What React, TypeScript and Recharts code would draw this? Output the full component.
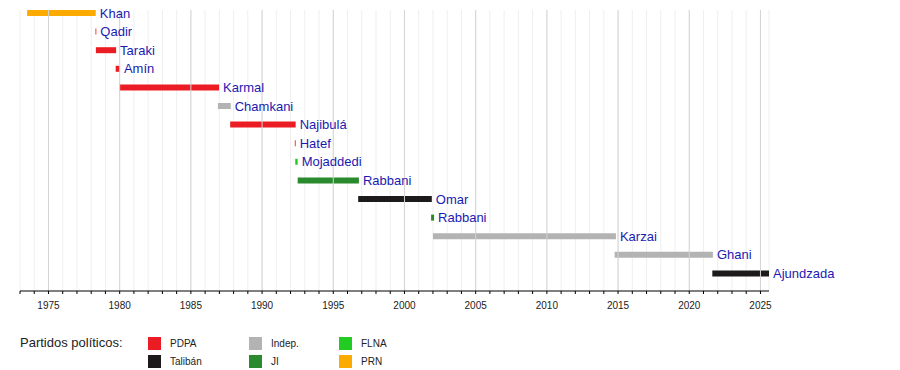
import React from "react";
import {
  BarChart,
  Bar,
  Cell,
  XAxis,
  YAxis,
  CartesianGrid,
  ReferenceLine,
  LabelList
} from "recharts";

// Leaders, party and term (decimal years), top to bottom
const LEADERS = ["Khan", "Qadir", "Taraki", "Amín", "Karmal", "Chamkani", "Najibulá", "Hatef", "Mojaddedi", "Rabbani", "Omar", "Rabbani", "Karzai", "Ghani", "Ajundzada"];
const PARTIES = ["PRN", "PDPA", "PDPA", "PDPA", "PDPA", "Indep.", "PDPA", "PDPA", "FLNA", "JI", "Talibán", "JI", "Indep.", "Indep.", "Talibán"];
const TERM_START = [1973.5, 1978.3, 1978.33, 1979.72, 1979.99, 1986.9, 1987.76, 1992.3, 1992.33, 1992.5, 1996.75, 2001.87, 2002.0, 2014.76, 2021.62];
const TERM_END = [1978.32, 1978.36, 1979.75, 1980.02, 1986.98, 1987.8, 1992.36, 1992.36, 1992.5, 1996.8, 2001.92, 2002.08, 2014.85, 2021.66, 2025.6];

const YEARS = Array.from({ length: 2025 - 1973 + 1 }, (_, i) => 1973 + i);
const MAJOR_YEARS = [1975, 1980, 1985, 1990, 1995, 2000, 2005, 2010, 2015, 2020, 2025];

const PARTY_COLORS: Record<string, string> = {
  PDPA: "#ec1c24",
  "Talibán": "#1c1a1b",
  "Indep.": "#b3b3b3",
  JI: "#2a8a2e",
  FLNA: "#22cc22",
  PRN: "#fbaa00"
};

// legend rows: [first row, second row] per column
const LEGEND_COLUMNS = [
  ["PDPA", "Talibán"],
  ["Indep.", "JI"],
  ["FLNA", "PRN"]
];

const data = LEADERS.map((name, i) => ({
  id: "r" + i,
  name,
  party: PARTIES[i],
  term: [TERM_START[i], TERM_END[i]]
}));

const FONT = "'Liberation Sans', Arial, sans-serif";

export default function App() {
  return (
    <div style={{ position: "absolute", left: 0, top: 0, width: 900, height: 370, background: "#fff", fontFamily: FONT }}>
      <BarChart
        width={900}
        height={370}
        data={data}
        layout="vertical"
        margin={{ top: 10, right: 131, left: 20, bottom: 59 }}
      >
        <CartesianGrid horizontal={false} stroke="#efefef" />
        {MAJOR_YEARS.map((y) => (
          <ReferenceLine key={y} x={y} stroke="#d4d4d4" strokeWidth={1} />
        ))}
        <XAxis
          type="number"
          domain={[1973, 2025.6]}
          ticks={YEARS}
          interval={0}
          tickFormatter={(v) => (v % 5 === 0 ? String(v) : "")}
          tickSize={3}
          tickMargin={8}
          stroke="#000"
          tick={{ fill: "#222", fontSize: 10, fontFamily: FONT }}
          height={20}
          allowDataOverflow
        />
        <YAxis
          type="category"
          dataKey="id"
          width={0}
          tick={false}
          tickLine={false}
          stroke="#000"
          padding={{ top: -6, bottom: 8 }}
        />
        <Bar dataKey="term" barSize={6} isAnimationActive={false}>
          {data.map((d) => (
            <Cell key={d.id} fill={PARTY_COLORS[d.party]} />
          ))}
          <LabelList
            dataKey="name"
            position="right"
            offset={4}
            style={{ fill: "#1a1ab0", fontSize: 13, fontFamily: FONT }}
          />
        </Bar>
      </BarChart>

      <div style={{ position: "absolute", left: 20, top: 335, fontSize: 13, color: "#222" }}>
        Partidos políticos:
      </div>
      {LEGEND_COLUMNS.map((col, ci) =>
        col.map((party, ri) => (
          <div
            key={party}
            style={{
              position: "absolute",
              left: [148, 249, 339][ci],
              top: 337 + ri * 17.5,
              display: "flex",
              alignItems: "center",
              height: 13
            }}
          >
            <span style={{ display: "inline-block", width: 13, height: 13, background: PARTY_COLORS[party] }} />
            <span style={{ marginLeft: 9, fontSize: 10, color: "#222" }}>{party}</span>
          </div>
        ))
      )}
    </div>
  );
}
